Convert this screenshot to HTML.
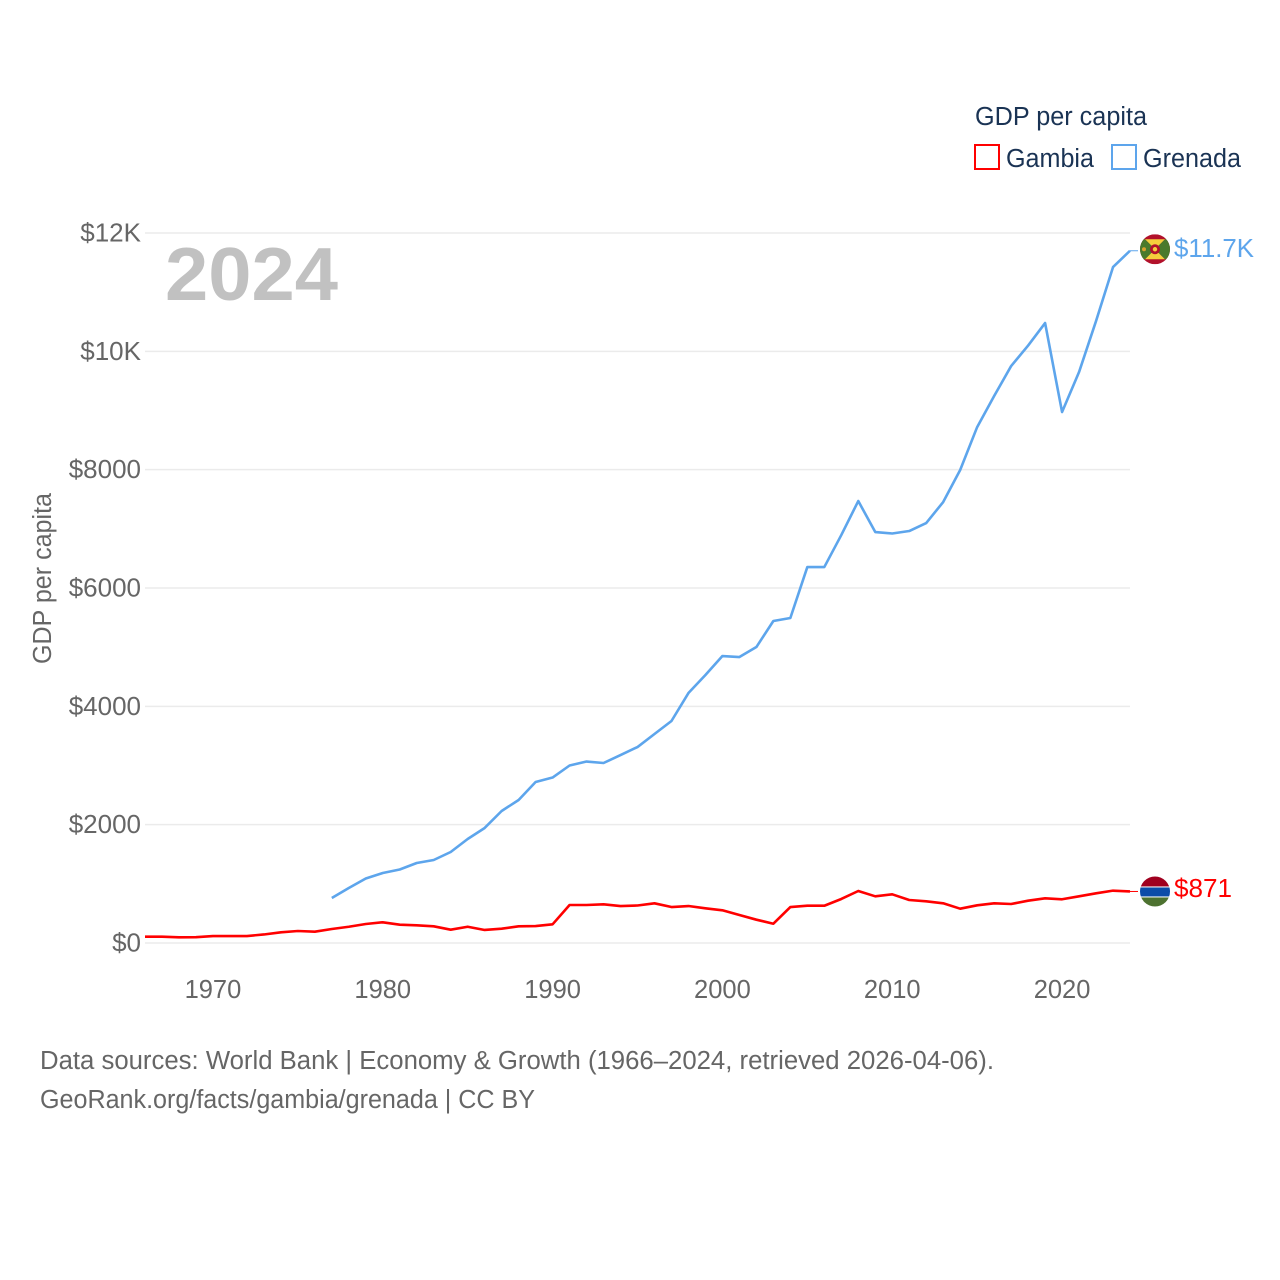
<!DOCTYPE html>
<html lang="en">
<head>
<meta charset="utf-8">
<title>GDP per capita: Gambia and Grenada</title>
<style>
  html, body { margin: 0; padding: 0; background: #fff; }
  svg { display: block; }
  text { font-family: "Liberation Sans", sans-serif; }
</style>
</head>
<body>
<svg id="chart" xmlns="http://www.w3.org/2000/svg" width="1280" height="1280" viewBox="0 0 1280 1280">
  <rect x="0" y="0" width="1280" height="1280" fill="#ffffff"/>
  <g id="grid"></g>
  <g id="y-ticks"></g>
  <g id="x-ticks"></g>
  <text x="165" y="300" font-size="75" font-weight="700" fill="#c1c1c1" textLength="173" lengthAdjust="spacingAndGlyphs">2024</text>
  <text transform="translate(51,664) rotate(-90)" font-size="25.5" fill="#666666" textLength="171" lengthAdjust="spacingAndGlyphs">GDP per capita</text>
  <g id="series"></g>

  <g>
    <text x="975" y="125" font-size="25.5" fill="#1a3354" textLength="172" lengthAdjust="spacingAndGlyphs">GDP per capita</text>
    <g>
      <rect x="975" y="145" width="24" height="24" fill="none" stroke="#ff0000" stroke-width="2"/>
      <text x="1006" y="167" font-size="25.5" fill="#1a3354" textLength="88" lengthAdjust="spacingAndGlyphs">Gambia</text>
    </g>
    <g>
      <rect x="1112" y="145" width="24" height="24" fill="none" stroke="#5da5ec" stroke-width="2"/>
      <text x="1143" y="167" font-size="25.5" fill="#1a3354" textLength="98" lengthAdjust="spacingAndGlyphs">Grenada</text>
    </g>
  </g>

  <defs>
    <clipPath id="clip-flag"><circle cx="0" cy="0" r="15"/></clipPath>
  </defs>

  <g id="flag-grenada" clip-path="url(#clip-flag)">
    <rect x="-15" y="-15" width="30" height="30" fill="#b2112b"/>
    <polygon points="-10,-10 10,-10 0,0" fill="#f5cf3c"/>
    <polygon points="-10,10 10,10 0,0" fill="#f5cf3c"/>
    <polygon points="-15,-10 -10,-10 0,0 -10,10 -15,10" fill="#4a7a2c"/>
    <polygon points="15,-10 10,-10 0,0 10,10 15,10" fill="#4a7a2c"/>
    <circle cx="0" cy="0" r="5" fill="#b2112b"/>
    <circle cx="0" cy="0" r="2.2" fill="#f5cf3c"/>
    <circle cx="-11" cy="0" r="2" fill="#d9a02c"/>
  </g>
  <g id="flag-gambia" clip-path="url(#clip-flag)">
    <rect x="-15" y="-15" width="30" height="10" fill="#a0001f"/>
    <rect x="-15" y="-5" width="30" height="1" fill="#ffffff"/>
    <rect x="-15" y="-4" width="30" height="9" fill="#0c4ca8"/>
    <rect x="-15" y="5" width="30" height="1" fill="#ffffff"/>
    <rect x="-15" y="6" width="30" height="9" fill="#4d7230"/>
  </g>

  <text id="value-grenada" x="1174" font-size="25.5" fill="#5da5ec" textLength="80" lengthAdjust="spacingAndGlyphs">$11.7K</text>
  <text id="value-gambia" x="1174" font-size="25.5" fill="#ff0000" textLength="58" lengthAdjust="spacingAndGlyphs">$871</text>

  <g>
    <text x="40" y="1069" font-size="25.5" fill="#666666" textLength="954" lengthAdjust="spacingAndGlyphs">Data sources: World Bank | Economy &amp; Growth (1966–2024, retrieved 2026-04-06).</text>
    <text x="40" y="1108" font-size="25.5" fill="#666666" textLength="495" lengthAdjust="spacingAndGlyphs">GeoRank.org/facts/gambia/grenada | CC BY</text>
  </g>
</svg>

<script>
const firstYear = 1966;
const lastYear = 2024;
const yTickValues = [0, 2000, 4000, 6000, 8000, 10000, 12000];
const yTickLabels = ["$0", "$2000", "$4000", "$6000", "$8000", "$10K", "$12K"];
const xTickValues = [1970, 1980, 1990, 2000, 2010, 2020];
const gambiaStartYear = 1966;
const gambiaValues = [106,106,96,98,118,118,118,144,181,203,191,237,275,321,350,309,299,282,225,275,220,242,282,287,316,642,642,654,625,634,671,608,625,586,553,473,394,326,608,630,630,744,879,789,823,727,705,671,580,637,671,659,715,755,739,789,840,885,871];
const grenadaStartYear = 1977;
const grenadaValues = [760,930,1090,1183,1242,1352,1403,1538,1758,1944,2231,2417,2721,2797,3000,3067,3042,3177,3312,3532,3752,4225,4529,4850,4833,5002,5442,5493,6354,6354,6895,7470,6946,6921,6963,7098,7453,7994,8720,9244,9751,10098,10478,8974,9650,10512,11424,11700];

const NS = "http://www.w3.org/2000/svg";
function xScale(year) { return 145 + (year - firstYear) * (1130 - 145) / (lastYear - firstYear); }
function yScale(value) { return 943 - value * (943 - 233) / 12000; }

function make(tag, attrs, parent, text) {
  const el = document.createElementNS(NS, tag);
  for (const k in attrs) el.setAttribute(k, attrs[k]);
  if (text !== undefined) el.textContent = text;
  parent.appendChild(el);
  return el;
}

const gridGroup = document.getElementById("grid");
const yGroup = document.getElementById("y-ticks");
yTickValues.forEach(function (v, i) {
  const line = make("line", { x1: 145, x2: 1130, y1: yScale(v), y2: yScale(v), stroke: "#ebebeb", "stroke-width": 1.5 }, gridGroup);
  
  
  const label = make("text", { x: 141, y: yScale(v) + 8.5, "text-anchor": "end", "font-size": 26, fill: "#666666" }, yGroup, yTickLabels[i]);
  
  
});

const xGroup = document.getElementById("x-ticks");
xTickValues.forEach(function (year) {
  const label = make("text", { x: xScale(year), y: 998, "text-anchor": "middle", "font-size": 25.5, fill: "#666666" }, xGroup, String(year));
  
  
});

function linePoints(start, values) {
  return values.map(function (v, i) {
    return xScale(start + i).toFixed(2) + "," + yScale(v).toFixed(2);
  }).join(" ");
}

const seriesGroup = document.getElementById("series");

const gambiaLine = make("polyline", { points: linePoints(gambiaStartYear, gambiaValues), fill: "none", stroke: "#ff0000", "stroke-width": 2.6, "stroke-linejoin": "round" }, seriesGroup);



const grenadaLine = make("polyline", { points: linePoints(grenadaStartYear, grenadaValues), fill: "none", stroke: "#5da5ec", "stroke-width": 2.6, "stroke-linejoin": "round" }, seriesGroup);



const gambiaEnd = gambiaValues[gambiaValues.length - 1];
const grenadaEnd = grenadaValues[grenadaValues.length - 1];

const gambiaConn = make("line", { x1: xScale(lastYear), x2: 1138, y1: yScale(gambiaEnd), y2: yScale(gambiaEnd), stroke: "#ff0000", "stroke-width": 1 }, seriesGroup);



const grenadaConn = make("line", { x1: xScale(lastYear), x2: 1138, y1: yScale(grenadaEnd), y2: yScale(grenadaEnd), stroke: "#5da5ec", "stroke-width": 1 }, seriesGroup);



document.getElementById("flag-grenada").setAttribute("transform", "translate(1155," + (yScale(grenadaEnd) - 1.5) + ")");
document.getElementById("flag-gambia").setAttribute("transform", "translate(1155," + yScale(gambiaEnd) + ")");
document.getElementById("value-grenada").setAttribute("y", yScale(grenadaEnd) + 6);
document.getElementById("value-gambia").setAttribute("y", yScale(gambiaEnd) + 5.5);
</script>
</body>
</html>
